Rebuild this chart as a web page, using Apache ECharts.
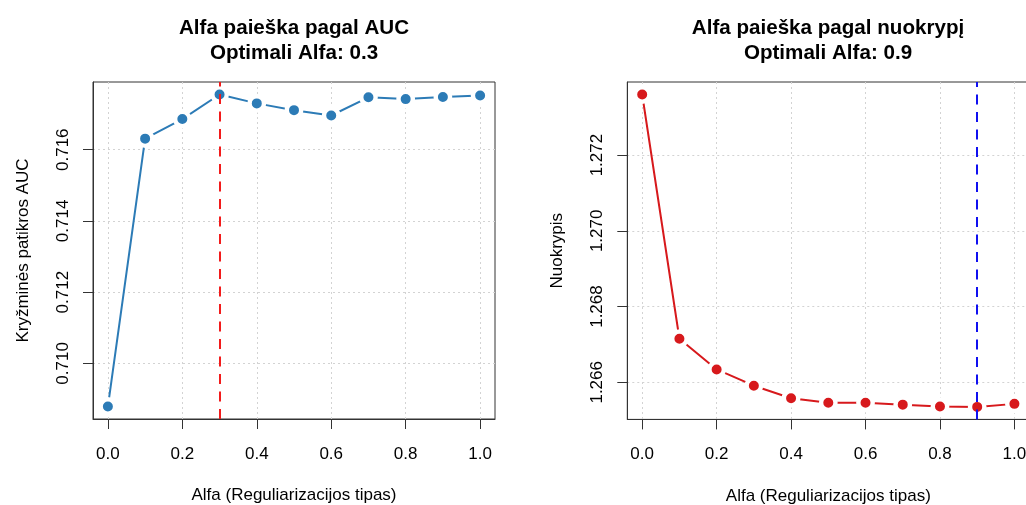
<!DOCTYPE html>
<html>
<head>
<meta charset="utf-8">
<script src="https://cdn.jsdelivr.net/npm/echarts@6/dist/echarts.min.js"></script>
<style>
html,body{margin:0;padding:0;background:#fff;}
#chart{width:1026px;height:505px;}
</style>
</head>
<body>
<div id="chart"></div>
<script>
// ---- data ----
const alphaValues = [0.0, 0.1, 0.2, 0.3, 0.4, 0.5, 0.6, 0.7, 0.8, 0.9, 1.0];
const aucValues = [0.70879, 0.71631, 0.71686, 0.71755, 0.71730, 0.71711, 0.71696, 0.71747, 0.71742, 0.71748, 0.71752];
const devianceValues = [1.27360, 1.26715, 1.26634, 1.26591, 1.26558, 1.26546, 1.26546, 1.26541, 1.26536, 1.26535, 1.26543];
const xTickValues = [0.0, 0.2, 0.4, 0.6, 0.8, 1.0];
const aucTickValues = [0.710, 0.712, 0.714, 0.716];
const devTickValues = [1.266, 1.268, 1.270, 1.272];
const optimalAlphaAuc = 0.3;
const optimalAlphaDev = 0.9;
const titleAuc = 'Alfa paieška pagal AUC\nOptimali Alfa: 0.3';
const titleDev = 'Alfa paieška pagal nuokrypį\nOptimali Alfa: 0.9';
const xName = 'Alfa (Reguliarizacijos tipas)';
const yNameAuc = 'Kryžminės patikros AUC';
const yNameDev = 'Nuokrypis';

// R-like 4% axis extension
function ext(arr) {
  const mn = Math.min.apply(null, arr), mx = Math.max.apply(null, arr);
  const r = mx - mn;
  return [mn - 0.04 * r, mx + 0.04 * r];
}
const xr = ext(alphaValues);
const ya = ext(aucValues);
const yd = ext(devianceValues);

const FONT = "'Liberation Sans', Arial, Helvetica, sans-serif";
const blue = '#2C7BB6';
const red = '#D7191C';

function xAxisDef(idx) {
  return {
    type: 'value', gridIndex: idx, min: xr[0], max: xr[1],
    name: xName, nameLocation: 'middle', nameGap: 68,
    nameTextStyle: { fontFamily: FONT, fontSize: 17, color: '#000' },
    axisLine: { show: true, onZero: false, lineStyle: { color: '#333', width: 1 } },
    axisTick: { show: true, inside: false, customValues: xTickValues, length: 10, lineStyle: { color: '#333', width: 1 } },
    axisLabel: { customValues: xTickValues, margin: 26.5, fontFamily: FONT, fontSize: 17, color: '#000',
      formatter: v => v.toFixed(1) },
    splitLine: { show: true, lineStyle: { color: '#D3D3D3', type: [2, 3], width: 1 } }
  };
}
function yAxisDef(idx, r, ticks, name) {
  return {
    type: 'value', gridIndex: idx, min: r[0], max: r[1],
    name: name, nameLocation: 'middle', nameGap: 61, nameRotate: 90,
    nameTextStyle: { fontFamily: FONT, fontSize: 17, color: '#000' },
    axisLine: { show: true, onZero: false, lineStyle: { color: '#333', width: 1 } },
    axisTick: { show: true, inside: false, customValues: ticks, length: 10, lineStyle: { color: '#333', width: 1 } },
    axisLabel: { customValues: ticks, rotate: 90, margin: 21, fontFamily: FONT, fontSize: 17, color: '#000',
      formatter: v => v.toFixed(3) },
    splitLine: { show: true, lineStyle: { color: '#D3D3D3', type: [2, 3], width: 1 } }
  };
}
function seriesDef(idx, values, color, optimal, vcolor) {
  return {
    type: 'line', xAxisIndex: idx, yAxisIndex: idx,
    data: alphaValues.map((a, i) => [a, values[i]]),
    lineStyle: { color: color, width: 2 },
    symbol: 'circle', symbolSize: 14.4,
    itemStyle: { color: color, borderColor: '#fff', borderWidth: 4.4 },
    emphasis: { disabled: true },
    animation: false,
    markLine: {
      silent: true, symbol: ['none', 'none'], label: { show: false },
      lineStyle: { color: vcolor, width: 2, type: [10, 7.5] },
      data: [{ xAxis: optimal }],
      animation: false
    }
  };
}

const chart = echarts.init(document.getElementById('chart'), null, { renderer: 'canvas' });
chart.setOption({
  animation: false,
  backgroundColor: '#fff',
  title: [
    { text: titleAuc, left: 294, top: 15.5, padding: 0, textAlign: 'center',
      textStyle: { fontFamily: FONT, fontSize: 20.6, fontWeight: 'bold', color: '#000', lineHeight: 25.5 } },
    { text: titleDev, left: 828, top: 15.5, padding: 0, textAlign: 'center',
      textStyle: { fontFamily: FONT, fontSize: 20.6, fontWeight: 'bold', color: '#000', lineHeight: 25.5 } }
  ],
  grid: [
    { left: 93, top: 82, width: 402, height: 337, show: true, borderColor: '#333', borderWidth: 1, backgroundColor: 'transparent', containLabel: false, outerBoundsMode: 'none' },
    { left: 627.3, top: 82, width: 402, height: 337.4, show: true, borderColor: '#333', borderWidth: 1, backgroundColor: 'transparent', containLabel: false, outerBoundsMode: 'none' }
  ],
  xAxis: [xAxisDef(0), xAxisDef(1)],
  yAxis: [yAxisDef(0, ya, aucTickValues, yNameAuc), yAxisDef(1, yd, devTickValues, yNameDev)],
  series: [
    seriesDef(0, aucValues, blue, optimalAlphaAuc, '#F21B1B'),
    seriesDef(1, devianceValues, red, optimalAlphaDev, '#1010F0')
  ]
});
</script>
</body>
</html>
